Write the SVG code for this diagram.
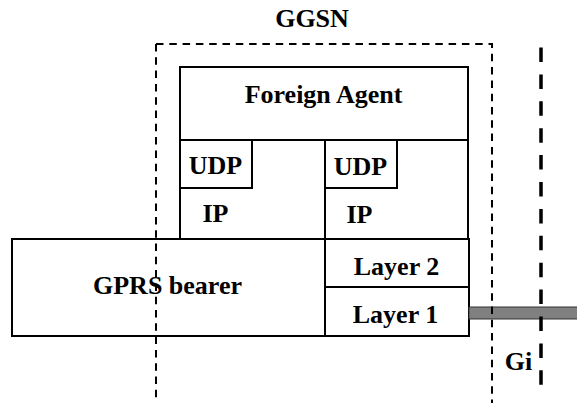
<svg xmlns="http://www.w3.org/2000/svg" width="577" height="403" viewBox="0 0 577 403">
  <style>
    .box { fill: #ffffff; stroke: #000000; stroke-width: 2; }
    .lbl { font-family: "Liberation Serif", "Times New Roman", serif; font-weight: bold; font-size: 26px; fill: #000000; text-anchor: middle; }
    .ggsn { fill: none; stroke: #000000; stroke-width: 2; stroke-dasharray: 7.5 5.8; }
    .gi { fill: none; stroke: #000000; stroke-width: 3.5; stroke-dasharray: 14.5 12.4; }
    .link { fill: #808080; stroke: #333333; stroke-width: 1; }
  </style>

  <rect x="0" y="0" width="577" height="403" fill="#ffffff"/>

  <!-- GGSN protocol stack -->
  <g id="foreign-agent">
    <rect class="box" x="180" y="67" width="288" height="73"/>
    <text class="lbl" x="323.5" y="103">Foreign Agent</text>
  </g>

  <g id="ip-left">
    <rect class="box" x="180" y="140" width="145" height="99"/>
    <text class="lbl" x="215.5" y="222">IP</text>
  </g>
  <g id="udp-left">
    <rect class="box" x="180" y="140" width="72" height="48"/>
    <text class="lbl" x="215.5" y="174">UDP</text>
  </g>

  <g id="ip-right">
    <rect class="box" x="325" y="140" width="143" height="99"/>
    <text class="lbl" x="359.5" y="223">IP</text>
  </g>
  <g id="udp-right">
    <rect class="box" x="325" y="140" width="72" height="48"/>
    <text class="lbl" x="360.5" y="175">UDP</text>
  </g>

  <g id="gprs-bearer">
    <rect class="box" x="12" y="239" width="313" height="97"/>
    <text class="lbl" x="167.5" y="294">GPRS bearer</text>
  </g>

  <g id="layer-2">
    <rect class="box" x="325" y="239" width="144" height="48"/>
    <text class="lbl" x="396.5" y="275">Layer 2</text>
  </g>
  <g id="layer-1">
    <rect class="box" x="325" y="287" width="144" height="49"/>
    <text class="lbl" x="395.5" y="323">Layer 1</text>
  </g>

  <!-- Gi link leaving Layer 1 -->
  <g id="connectors">
    <rect class="link" x="469" y="307" width="110" height="12"/>
  </g>

  <!-- GGSN boundary and Gi reference point -->
  <g id="ggsn-boundary">
    <path class="ggsn" d="M156,44 V403"/>
    <path class="ggsn" d="M156,44 H492 V403"/>
    <text class="lbl" x="312" y="27">GGSN</text>
  </g>

  <g id="gi-interface">
    <path class="gi" d="M541,47.5 V385"/>
    <text class="lbl" x="518.5" y="370">Gi</text>
  </g>
</svg>
